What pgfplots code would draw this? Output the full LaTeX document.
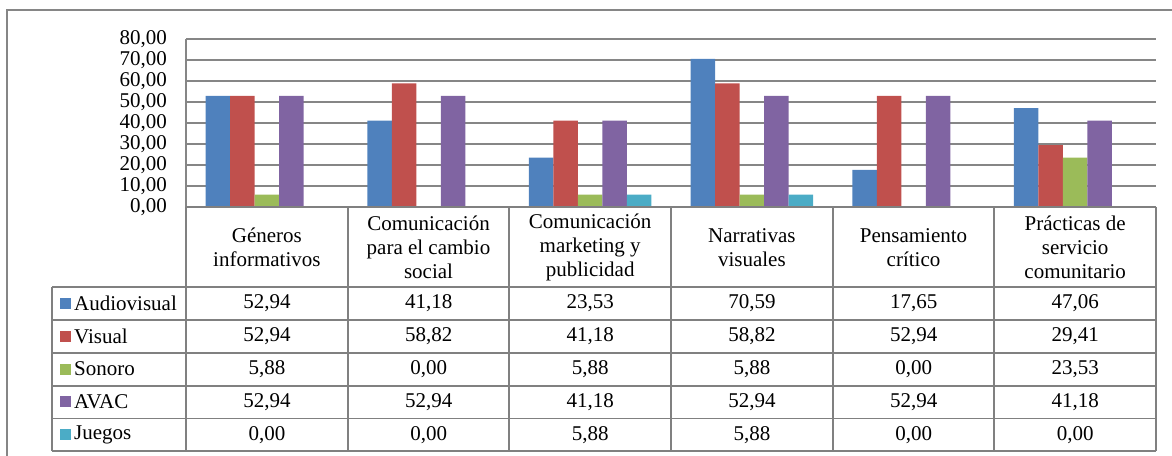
\documentclass[border=0pt]{standalone}
\usepackage{fontspec}
\setmainfont{LiberationSerif-Regular.ttf}
\usepackage{pgfplots}
\usepackage{pgfplotstable}
\pgfplotsset{compat=1.18}
\definecolor{cA}{HTML}{4F81BD}
\definecolor{cV}{HTML}{C0504D}
\definecolor{cS}{HTML}{9BBB59}
\definecolor{cC}{HTML}{8064A2}
\definecolor{cJ}{HTML}{4BACC6}
\definecolor{gridc}{HTML}{868686}
\definecolor{linec}{HTML}{808080}
\pgfkeys{/pgf/number format/assume math mode=true}
\pgfplotstableread{
x Audiovisual Visual Sonoro AVAC Juegos
0 52.94 52.94 5.88 52.94 0.00
1 41.18 58.82 0.00 52.94 0.00
2 23.53 41.18 5.88 41.18 5.88
3 70.59 58.82 5.88 52.94 5.88
4 17.65 52.94 0.00 52.94 0.00
5 47.06 29.41 23.53 41.18 0.00
}\datatable
\begin{document}%
\fontsize{21}{24}\selectfont%
\begin{tikzpicture}
\path[use as bounding box] (0pt,0pt) rectangle (1172pt,455pt);
% outer frame
\draw[line width=1.6pt, color=gridc] (7pt,-10pt) -- (7pt,445pt) -- (1185pt,445pt);
\begin{axis}[
  at={(186pt,248pt)}, anchor=south west,
  scale only axis, width=970pt, height=168pt,
  xmin=-0.5, xmax=5.5, ymin=0, ymax=80,
  ytick={0,10,...,80},
  xtick={0,...,5},
  xticklabels={G\'eneros\\informativos,Comunicaci\'on\\para el cambio\\social,Comunicaci\'on\\marketing y\\publicidad,Narrativas\\visuales,Pensamiento\\cr\'itico,Pr\'acticas de\\servicio\\comunitario},
  xticklabel style={align=center, anchor=center, yshift=-40.5pt, inner sep=0pt},
  yticklabel style={anchor=east, inner sep=0pt, xshift=-19pt},
  yticklabel={\pgfmathprintnumber[fixed,fixed zerofill,precision=2,use comma,assume math mode=true]{\tick}},
  ymajorgrids, grid style={color=gridc, line width=1.5pt},
  axis line style={draw=none},
  major tick length=0pt,
  ybar=0pt, bar width=24.5pt,
  every axis plot/.append style={draw=none},
]
\addplot[fill=cA] table[x=x,y=Audiovisual]{\datatable};
\addplot[fill=cV] table[x=x,y=Visual]{\datatable};
\addplot[fill=cS] table[x=x,y=Sonoro]{\datatable};
\addplot[fill=cC] table[x=x,y=AVAC]{\datatable};
\addplot[fill=cJ] table[x=x,y=Juegos]{\datatable};
\end{axis}
% left axis line
\draw[line width=1.5pt, color=gridc] (186pt,416pt) -- (186pt,248pt);
% table lines
\begin{scope}[line width=1.5pt, color=linec]
\draw (186pt,248pt) -- (1156pt,248pt);
\foreach \yy in {287,320,353,386,418.5,451} {
  \draw (52pt,455pt-\yy pt) -- (1156pt,455pt-\yy pt);
}
\draw (52pt,168pt) -- (52pt,4pt);
\foreach \xx in {186,348,509,671,833,994,1156} {
  \draw (\xx pt,248pt) -- (\xx pt,4pt);
}
\end{scope}
% legend keys and names
\foreach \s/\col [count=\r from 0] in {Audiovisual/cA,Visual/cV,Sonoro/cS,AVAC/cC,Juegos/cJ} {
  \pgfmathsetmacro\yy{455-303.5-32.8*\r}
  \fill[\col] (60pt,\yy pt-5.5pt) rectangle +(11pt,11pt);
  \node[anchor=west, inner sep=0pt] at (74pt,\yy pt) {\s};
  \foreach \c in {0,...,5} {
    \pgfplotstablegetelem{\c}{\s}\of\datatable
    \pgfmathsetmacro\xx{267+161.67*\c}
    \node[inner sep=0pt] at (\xx pt,\yy pt) {\pgfmathprintnumber[fixed,fixed zerofill,precision=2,use comma]{\pgfplotsretval}};
  }
}
\end{tikzpicture}%
\end{document}
